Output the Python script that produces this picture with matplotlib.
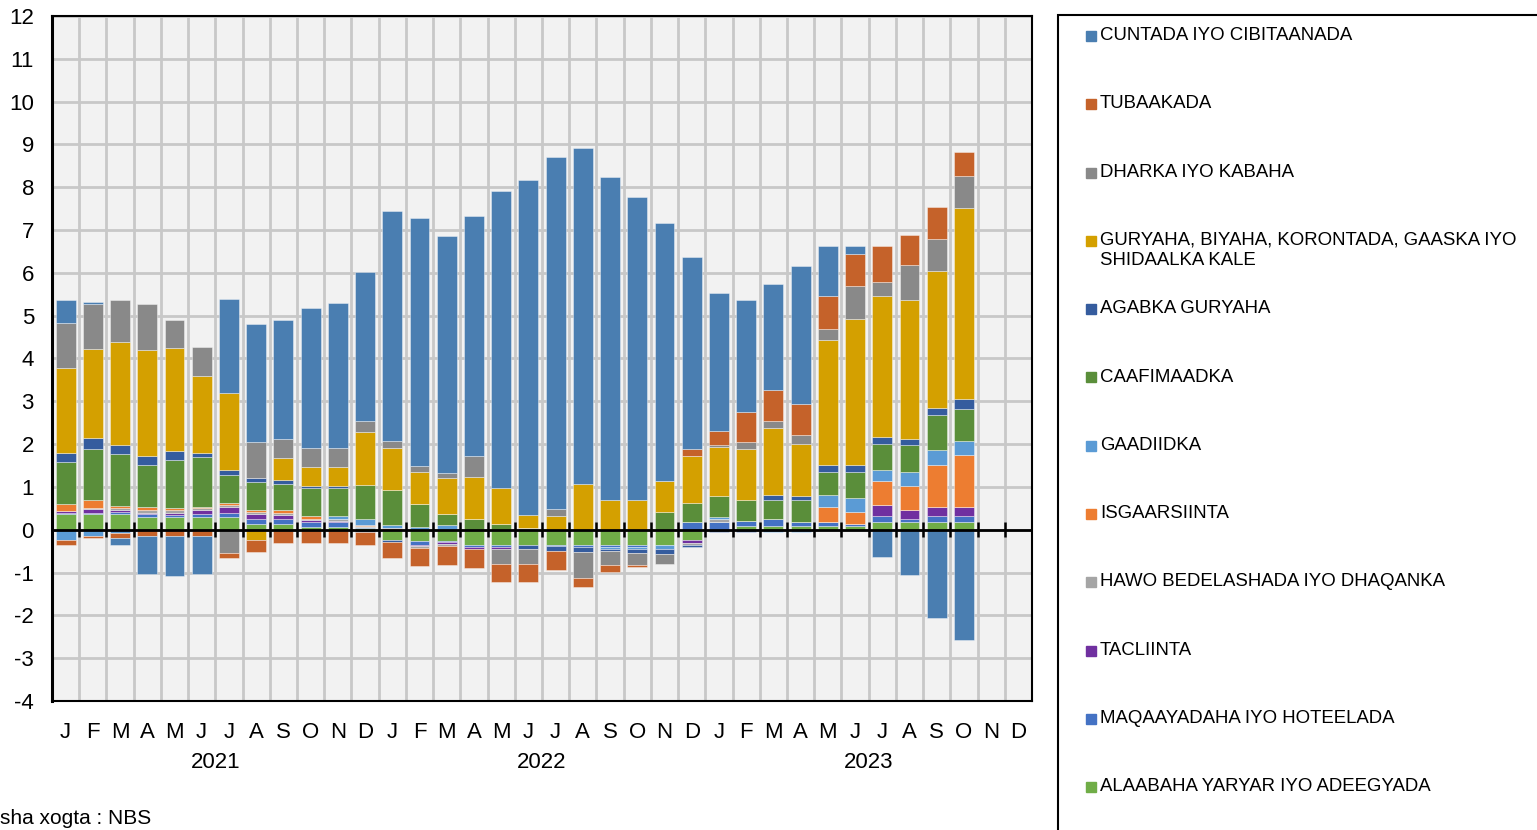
import numpy as np
import matplotlib
matplotlib.use("Agg")
import matplotlib.pyplot as plt
from matplotlib.patches import Rectangle

plt.rcParams['font.family'] = ['Liberation Sans Narrow', 'Liberation Sans', 'DejaVu Sans']

month_letters = ["J", "F", "M", "A", "M", "J", "J", "A", "S", "O", "N", "D"] * 3
years = ["2021", "2022", "2023"]

# Jan 2021 .. Oct 2023 (34 months), stacking order from the bottom up
alaabaha = [0.37, 0.37, 0.37, 0.30, 0.30, 0.30, 0.30, 0.13, 0.13, 0.07, 0.07, 0.04,
            -0.24, -0.26, -0.26, -0.35, -0.35, -0.35, -0.35, -0.35, -0.35, -0.35, -0.35, -0.24,
            0.0, 0.09, 0.09, 0.09, 0.09, 0.09, 0.19, 0.19, 0.19, 0.19]
maqaayadaha = [0.03, 0.03, 0.04, 0.06, 0.05, 0.06, 0.10, 0.11, 0.11, 0.12, 0.12, 0.02,
               0.0, -0.10, -0.03, -0.05, -0.06, 0.0, -0.04, -0.06, -0.05, -0.05, 0.0, 0.19,
               0.19, 0.12, 0.16, 0.10, 0.10, 0.04, 0.12, 0.06, 0.12, 0.12]
tacliinta = [0.03, 0.09, 0.05, 0.04, 0.05, 0.10, 0.12, 0.12, 0.11, 0.04, 0.02, 0.0,
             0.0, -0.03, -0.05, -0.05, -0.05, 0.0, 0.0, 0.0, 0.0, 0.0, 0.0, -0.06,
             0.0, 0.0, 0.0, 0.0, 0.0, 0.0, 0.27, 0.22, 0.22, 0.22]
hawo = [0.0, 0.02, 0.05, 0.07, 0.06, 0.05, 0.05, 0.05, 0.05, 0.02, 0.05, 0.02,
        0.0, -0.03, -0.05, 0.0, 0.0, 0.0, 0.0, 0.0, 0.0, 0.0, 0.0, -0.06,
        0.06, 0.0, 0.0, 0.0, 0.0, 0.0, 0.0, 0.0, 0.0, 0.0]
isgaarsiinta = [0.17, 0.18, 0.05, 0.05, 0.05, 0.02, 0.05, 0.05, 0.05, 0.06, 0.0, 0.04,
                0.05, 0.0, 0.0, 0.0, 0.0, 0.0, 0.0, 0.0, 0.0, 0.0, 0.0, 0.0,
                0.0, 0.0, 0.0, 0.0, 0.34, 0.29, 0.55, 0.55, 0.99, 1.21]
gaadiidka = [-0.23, -0.14, -0.08, 0.0, 0.0, 0.0, 0.0, 0.0, 0.0, 0.0, 0.05, 0.12,
             0.05, 0.06, 0.10, 0.0, 0.0, 0.05, 0.0, 0.0, -0.04, -0.04, -0.11, 0.0,
             0.05, 0.0, -0.05, -0.05, 0.27, 0.32, 0.27, 0.34, 0.34, 0.33]
caafimaadka = [0.98, 1.19, 1.22, 0.99, 1.12, 1.16, 0.66, 0.66, 0.61, 0.66, 0.66, 0.81,
               0.83, 0.53, 0.27, 0.25, 0.14, 0.0, 0.0, 0.0, 0.0, 0.0, 0.41, 0.44,
               0.49, 0.49, 0.45, 0.50, 0.55, 0.62, 0.61, 0.61, 0.82, 0.76]
agabka = [0.22, 0.27, 0.20, 0.21, 0.20, 0.11, 0.11, 0.10, 0.10, 0.05, 0.05, -0.05,
          -0.05, 0.0, 0.0, 0.0, 0.0, -0.11, -0.11, -0.10, -0.05, -0.10, -0.10, -0.05,
          -0.06, -0.06, 0.10, 0.10, 0.16, 0.15, 0.16, 0.14, 0.16, 0.22]
guryaha = [1.98, 2.08, 2.41, 2.47, 2.42, 1.80, 1.81, -0.24, 0.51, 0.45, 0.45, 1.23,
           0.98, 0.77, 0.83, 0.99, 0.83, 0.30, 0.33, 1.08, 0.70, 0.70, 0.72, 1.10,
           1.15, 1.18, 1.58, 1.21, 2.92, 3.41, 3.29, 3.25, 3.20, 4.46]
dharka = [1.05, 1.04, 0.97, 1.09, 0.66, 0.66, -0.55, 0.83, 0.44, 0.44, 0.44, 0.27,
          0.17, 0.12, 0.12, 0.49, -0.34, -0.34, 0.16, -0.62, -0.33, -0.29, -0.23, 0.0,
          0.05, 0.16, 0.17, 0.22, 0.27, 0.77, 0.33, 0.82, 0.76, 0.76]
tubaakada = [-0.12, -0.05, -0.11, -0.14, -0.14, -0.14, -0.12, -0.27, -0.31, -0.30, -0.30, -0.30,
             -0.37, -0.43, -0.43, -0.44, -0.43, -0.43, -0.45, -0.20, -0.17, -0.05, 0.0, 0.16,
             0.32, 0.71, 0.72, 0.72, 0.76, 0.76, 0.83, 0.70, 0.73, 0.55]
cuntada = [0.53, 0.05, -0.16, -0.90, -0.95, -0.90, 2.20, 2.75, 2.79, 3.28, 3.39, 3.46,
           5.36, 5.80, 5.53, 5.59, 6.95, 7.83, 8.22, 7.83, 7.55, 7.07, 6.04, 4.48,
           3.23, 2.62, 2.46, 3.23, 1.16, 0.17, -0.63, -1.06, -2.05, -2.57]

series = [
    ("ALAABAHA YARYAR IYO ADEEGYADA", alaabaha, "#70AD47"),
    ("MAQAAYADAHA IYO HOTEELADA", maqaayadaha, "#4472C4"),
    ("TACLIINTA", tacliinta, "#7030A0"),
    ("HAWO BEDELASHADA IYO DHAQANKA", hawo, "#A5A5A5"),
    ("ISGAARSIINTA", isgaarsiinta, "#ED7D31"),
    ("GAADIIDKA", gaadiidka, "#5B9BD5"),
    ("CAAFIMAADKA", caafimaadka, "#5A8E3A"),
    ("AGABKA GURYAHA", agabka, "#355C9E"),
    ("GURYAHA, BIYAHA, KORONTADA, GAASKA IYO\nSHIDAALKA KALE", guryaha, "#D4A000"),
    ("DHARKA IYO KABAHA", dharka, "#898989"),
    ("TUBAAKADA", tubaakada, "#C5622A"),
    ("CUNTADA IYO CIBITAANADA", cuntada, "#4A7EB1"),
]

W, H = 1537, 830
fig = plt.figure(figsize=(W / 100, H / 100), dpi=100)
ax = fig.add_axes([52 / W, 1 - 701 / H, 980 / W, 685 / H])
ax.set_facecolor("#F2F2F2")

n = len(cuntada)
x = np.arange(n)
pos_base = np.zeros(n)
neg_base = np.zeros(n)
for name, vals, color in series:
    v = np.array(vals)
    bottoms = np.where(v >= 0, pos_base, neg_base)
    ax.bar(x, v, width=0.73, bottom=bottoms, color=color,
           edgecolor=(1, 1, 1, 0.45), linewidth=0.6, zorder=3)
    pos_base += np.where(v > 0, v, 0)
    neg_base += np.where(v < 0, v, 0)

ax.set_xlim(-0.5, 35.5)
ax.set_ylim(-4, 12)
ax.set_yticks(range(-4, 13))
ax.set_yticklabels([str(t) for t in range(-4, 13)], fontsize=16)
ax.set_xticks(np.arange(36))
ax.set_xticklabels(month_letters, fontsize=16)
ax.set_xticks(np.arange(0.5, 35.5, 1), minor=True)
ax.tick_params(axis="both", which="both", length=0)
ax.tick_params(axis="x", pad=15)
ax.tick_params(axis="y", pad=13)
ax.grid(True, axis="y", color="#C8C8C8", linewidth=2.0, zorder=0)
ax.grid(True, axis="x", which="minor", color="#C8C8C8", linewidth=2.0, zorder=0)
ax.grid(False, axis="x", which="major")
ax.set_axisbelow(True)

ax.axhline(0, color="black", linewidth=2.0, zorder=4)
ax.vlines(np.arange(0.5, 35.5, 1), -0.17, 0.17, color="black", linewidth=1.8, zorder=4)

for s in ax.spines.values():
    s.set_color("black")
    s.set_linewidth(1.5)
ax.spines["left"].set_linewidth(2.2)

for i, yr in enumerate(years):
    fig.text((52 + 27.22 * (6 + 12 * i)) / W, 1 - 762 / H, yr, fontsize=16,
             ha="center", va="center")

fig.text(0 / W, 1 - 818 / H, "sha xogta : NBS", fontsize=15, ha="left", va="center")

# legend box, cut off by the figure edges like the original
fig.patches.append(Rectangle((1058 / W, -0.05), 0.5, 1 - 15 / H + 0.05,
                             transform=fig.transFigure, fill=False,
                             edgecolor="black", linewidth=1.5))
for k, (name, vals, color) in enumerate(reversed(series)):
    yc = 36 + 68.3 * k
    fig.patches.append(Rectangle((1086 / W, 1 - (yc + 5) / H), 10 / W, 10 / H,
                                 transform=fig.transFigure, color=color))
    fig.text(1100 / W, 1 - (yc - 9) / H, name, fontsize=13.4, ha="left", va="top",
             linespacing=1.25)

fig.savefig("out.png", dpi=100)
